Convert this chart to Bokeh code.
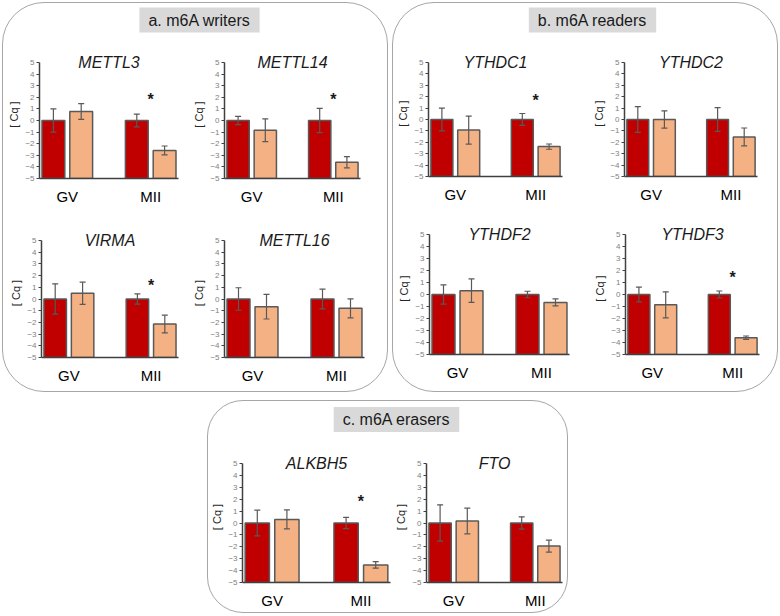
from bokeh.plotting import figure
from bokeh.models import (FactorRange, Range1d, Label, Whisker, TeeHead,
                          ColumnDataSource, FixedTicker)
from bokeh.layouts import row, column
from bokeh.transform import dodge
from bokeh.embed import file_html
from bokeh.resources import INLINE
from bokeh.core.properties import value

# ---------------- data ----------------
stages = ["GV", "MII"]
genes = ["METTL3", "METTL14", "VIRMA", "METTL16",
         "YTHDC1", "YTHDC2", "YTHDF2", "YTHDF3",
         "ALKBH5", "FTO"]
panel_titles = ["a. m6A writers", "b. m6A readers", "c. m6A erasers"]

# reference (dark red) bars, per gene: GV and MII means and error
ref_gv = [0.0, 0.0, 0.0, 0.0, 0.0, 0.0, 0.0, 0.0, 0.0, 0.0]
ref_mii = [0.0, 0.0, 0.0, 0.0, 0.0, 0.0, 0.0, 0.0, 0.0, 0.0]
ref_gv_err = [1.0, 0.35, 1.3, 0.96, 1.0, 1.13, 0.8, 0.62, 1.08, 1.53]
ref_mii_err = [0.55, 1.05, 0.43, 0.84, 0.52, 1.04, 0.27, 0.29, 0.47, 0.52]

# comparison (light orange) bars
cmp_gv = [0.78, -0.84, 0.49, -0.66, -0.93, 0.0, 0.32, -0.86, 0.30, 0.17]
cmp_mii = [-2.58, -3.6, -2.14, -0.80, -2.38, -1.53, -0.66, -3.6, -3.52, -1.94]
cmp_gv_err = [0.68, 0.98, 0.95, 1.05, 1.23, 0.76, 0.98, 1.08, 0.80, 1.08]
cmp_mii_err = [0.38, 0.48, 0.76, 0.81, 0.23, 0.78, 0.29, 0.14, 0.28, 0.50]

# significance marker height (MII), None = no marker
star_y = [2.1, 2.1, 1.4, None, 1.95, None, None, 1.7, 2.1, None]

y_ticks = [-5, -4, -3, -2, -1, 0, 1, 2, 3, 4, 5]
y_min, y_max = -5, 5

# ---------------- style / layout ----------------
DARK = "#C00000"
LIGHT = "#F4B183"
EDGE = "#595959"
AXIS = "#404040"
FONT = "Liberation Sans"
FACTOR_PAD = 0.5
BAR_OFF = 0.25
BAR_W = 0.41
HEADROOM = 1.0   # extra y space above the axis so the gene name is not clipped

# per gene: (figure width, left border, frame width)
XGEOM = [(187, 36, 139), (197, 31, 139), (187, 38, 137), (197, 34, 140),
         (197, 35, 134), (187, 33, 134), (197, 36, 140), (187, 35, 134),
         (184, 34, 148), (175, 31, 139)]
# per gene: (figure height, top border to y=5, axis height -5..5)
YGEOM = [(178, 29, 116), (178, 29, 116), (180, 29, 117), (180, 29, 117),
         (172, 29, 115), (172, 29, 115), (186, 29, 120), (186, 29, 120),
         (177, 28, 119), (177, 28, 119)]


def make_sub(k):
    fig_w, bl, fw = XGEOM[k]
    fig_h, bt, fh = YGEOM[k]
    extra = round(fh / (y_max - y_min) * HEADROOM)
    bt2 = bt - extra
    fh2 = fh + extra
    xr = FactorRange(factors=stages, factor_padding=FACTOR_PAD, range_padding=0)
    yr = Range1d(y_min, y_max + extra * (y_max - y_min) / fh)
    p = figure(width=fig_w, height=fig_h, x_range=xr, y_range=yr,
               output_backend="svg", toolbar_location=None,
               min_border_left=bl, min_border_right=fig_w - bl - fw,
               min_border_top=bt2, min_border_bottom=fig_h - bt2 - fh2)
    p.background_fill_alpha = 0
    p.border_fill_alpha = 0
    p.outline_line_color = None
    p.xgrid.visible = False
    p.ygrid.visible = False

    src = ColumnDataSource(dict(
        stage=stages,
        ref=[ref_gv[k], ref_mii[k]],
        ref_lo=[ref_gv[k] - ref_gv_err[k], ref_mii[k] - ref_mii_err[k]],
        ref_hi=[ref_gv[k] + ref_gv_err[k], ref_mii[k] + ref_mii_err[k]],
        cmp=[cmp_gv[k], cmp_mii[k]],
        cmp_lo=[cmp_gv[k] - cmp_gv_err[k], cmp_mii[k] - cmp_mii_err[k]],
        cmp_hi=[cmp_gv[k] + cmp_gv_err[k], cmp_mii[k] + cmp_mii_err[k]],
    ))

    for col, off, color in (("ref", -BAR_OFF, DARK), ("cmp", BAR_OFF, LIGHT)):
        p.vbar(x=dodge("stage", off, range=xr), top=col, bottom=y_min, width=BAR_W,
               source=src, fill_color=color, line_color=EDGE, line_width=1.5)
        w = Whisker(source=src, base=dodge("stage", off, range=xr),
                    upper=col + "_hi", lower=col + "_lo",
                    line_color=EDGE, line_width=1.2, level="overlay",
                    upper_head=TeeHead(size=6, line_color=EDGE, line_width=1.2),
                    lower_head=TeeHead(size=6, line_color=EDGE, line_width=1.2))
        p.add_layout(w)

    if star_y[k] is not None:
        p.text(x=["MII"], y=[star_y[k]], text=["*"], text_font=value(FONT),
               text_font_size="16px", text_font_style="bold",
               text_align="center", text_baseline="middle",
               y_offset=3, text_color="#1a1a1a")

    p.add_layout(Label(x=(len(stages) + FACTOR_PAD) / 2, y=y_max, text=genes[k],
                       text_align="center", text_baseline="middle",
                       text_font=FONT, text_font_size="16px",
                       text_font_style="italic", text_color="#1a1a1a"))

    ya = p.yaxis[0]
    ya.ticker = FixedTicker(ticks=y_ticks)
    ya.bounds = (y_min, y_max)
    ya.major_label_text_font = FONT
    ya.major_label_text_font_size = "8px"
    ya.major_label_text_color = "#7f7f7f"
    ya.major_label_standoff = 2
    ya.axis_line_color = AXIS
    ya.axis_line_width = 1.5
    ya.major_tick_line_color = AXIS
    ya.major_tick_in = 0
    ya.major_tick_out = 3
    ya.minor_tick_line_color = None
    ya.axis_label = "[ Cq ]"
    ya.axis_label_text_font = FONT
    ya.axis_label_text_font_size = "11px"
    ya.axis_label_text_font_style = "normal"
    ya.axis_label_text_color = "#262626"
    ya.axis_label_standoff = 2

    xa = p.xaxis[0]
    xa.axis_line_color = AXIS
    xa.axis_line_width = 1.5
    xa.major_tick_line_color = None
    xa.minor_tick_line_color = None
    xa.major_label_text_font = FONT
    xa.major_label_text_font_size = "15px"
    xa.major_label_text_color = "#000000"
    xa.major_label_standoff = 3
    return p


def make_label(text, w, h, cx, cy):
    f = figure(width=w, height=h, x_range=Range1d(0, w), y_range=Range1d(0, h),
               x_axis_type=None, y_axis_type=None, min_border=0,
               output_backend="svg", toolbar_location=None)
    f.background_fill_alpha = 0
    f.border_fill_alpha = 0
    f.outline_line_color = None
    f.xgrid.visible = False
    f.ygrid.visible = False
    f.add_layout(Label(x=cx, y=h - cy, text=text, text_align="center",
                       text_baseline="middle", text_font=FONT,
                       text_font_size="16px", text_color="#1a1a1a",
                       background_fill_color="#d9d9d9",
                       padding=dict(left=9, right=9, top=4, bottom=4)))
    return f


def panel_style(radius):
    return {"border": "1px solid #a6a6a6", "border-radius": f"{radius}px",
            "overflow": "hidden", "background": "white"}


subs = [make_sub(k) for k in range(len(genes))]

panel_a = column(make_label(panel_titles[0], 384, 30, 196, 16.5),
                 row(subs[0], subs[1]), row(subs[2], subs[3]),
                 styles=panel_style(42))
panel_b = column(make_label(panel_titles[1], 384, 30, 199, 16.5),
                 row(subs[4], subs[5]), row(subs[6], subs[7]),
                 styles=panel_style(42))
panel_c = column(make_label(panel_titles[2], 359, 34, 188, 18),
                 row(subs[8], subs[9]),
                 styles=panel_style(36), margin=(0, 0, 0, 205))

layout = column(row(panel_a, panel_b, spacing=4), panel_c, spacing=8,
                margin=(2, 0, 0, 2))

open("out.html", "w").write(file_html(layout, INLINE))
